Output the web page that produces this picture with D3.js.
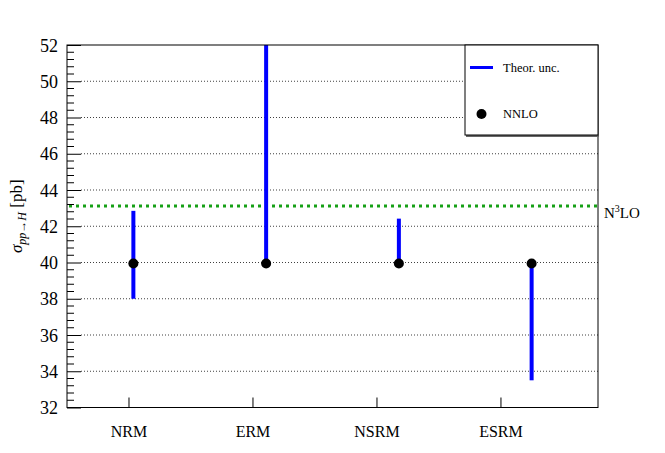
<!DOCTYPE html>
<html><head><meta charset="utf-8">
<script src="https://cdn.jsdelivr.net/npm/d3@7"></script>
<style>body{margin:0;background:#fff}svg{display:block}svg text{font-family:"Liberation Serif","DejaVu Serif",serif !important}</style>
</head><body>
<svg id="c" width="665" height="453"></svg>
<script>
const categories = ["NRM", "ERM", "NSRM", "ESRM"];
const nnlo = [39.94, 39.94, 39.94, 39.94];
const uncLow = [38.0, 39.94, 39.94, 33.5];
const uncHigh = [42.85, 52.0, 42.42, 39.94];
const n3lo = 43.12;
const yTicks = [32, 34, 36, 38, 40, 42, 44, 46, 48, 50, 52];
const yDomain = [32, 52];

const W = 665, H = 453;
const m = {l: 67, r: 67, t: 45, b: 45.5};
const svg = d3.select("#c");
const x = d3.scaleBand().domain(categories).range([m.l, W - m.r]);
const xt = d3.scaleBand().domain(categories).range([m.l, m.l + (W - m.l - m.r) * 0.934]);
const y = d3.scaleLinear().domain(yDomain).range([H - m.b, m.t]);

// grid
svg.append("g").selectAll("line").data(yTicks.slice(1, -1)).join("line")
  .attr("x1", m.l + 14).attr("x2", W - m.r)
  .attr("y1", d => y(d)).attr("y2", d => y(d))
  .attr("stroke", "#000").attr("stroke-width", 1).attr("stroke-dasharray", "1 2").attr("opacity", 0.75);

// N3LO line
svg.append("line").attr("x1", m.l + 2).attr("x2", W - m.r)
  .attr("y1", y(n3lo)).attr("y2", y(n3lo))
  .attr("stroke", "#16a016").attr("stroke-width", 3).attr("stroke-dasharray", "3 4");

// y axis
const yAxis = d3.axisLeft(y).tickValues(yTicks).tickSize(-14).tickPadding(10).tickFormat(d3.format("d"));
const ga = svg.append("g").attr("transform", `translate(${m.l},0)`).call(yAxis);
ga.select(".domain").remove();
ga.selectAll("text").attr("font-size", 18).attr("fill", "#000")
  .attr("x", -9).attr("dy", "0.34em");
const minors = d3.range(yDomain[0], yDomain[1] + 0.001, 0.4).filter(v => Math.abs(v / 2 - Math.round(v / 2)) > 0.01);
svg.append("g").selectAll("line").data(minors).join("line")
  .attr("x1", m.l).attr("x2", m.l + 7).attr("y1", d => y(d)).attr("y2", d => y(d))
  .attr("stroke", "#000");

// x axis
const xAxis = d3.axisBottom(xt).tickSize(-10).tickPadding(18);
const gx = svg.append("g").attr("transform", `translate(0,${H - m.b})`).call(xAxis);
gx.select(".domain").remove();
gx.selectAll("text").attr("font-size", 16).attr("fill", "#000");

// error bars
svg.append("g").selectAll("line").data(categories).join("line")
  .attr("x1", d => x(d) + x.bandwidth() / 2).attr("x2", d => x(d) + x.bandwidth() / 2)
  .attr("y1", (d, i) => y(uncLow[i])).attr("y2", (d, i) => y(uncHigh[i]))
  .attr("stroke", "#0000ff").attr("stroke-width", 4);

// points
svg.append("g").selectAll("circle").data(categories).join("circle")
  .attr("cx", d => x(d) + x.bandwidth() / 2).attr("cy", (d, i) => y(nnlo[i])).attr("r", 5).attr("fill", "#000");

// frame
svg.append("rect").attr("x", m.l).attr("y", m.t).attr("width", W - m.l - m.r).attr("height", H - m.t - m.b)
  .attr("fill", "none").attr("stroke", "#000").attr("stroke-width", 1);

// N3LO label
const nl = svg.append("text").attr("x", W - m.r + 6).attr("y", y(n3lo) + 12)
  .attr("font-size", 15).attr("fill", "#000");
nl.append("tspan").text("N");
nl.append("tspan").text("3").attr("font-size", 10).attr("dy", -6);
nl.append("tspan").text("LO").attr("dy", 6);

// legend
const lg = svg.append("g");
lg.append("line").attr("x1", 466).attr("x2", W - m.r + 1).attr("y1", 136).attr("y2", 136).attr("stroke", "#666").attr("stroke-width", 2);
lg.append("rect").attr("x", 465).attr("y", m.t).attr("width", W - m.r - 465).attr("height", 90)
  .attr("fill", "#fff").attr("stroke", "#000");
lg.append("line").attr("x1", 470).attr("x2", 493).attr("y1", 67.5).attr("y2", 67.5).attr("stroke", "#0000ff").attr("stroke-width", 3);
lg.append("text").attr("x", 503).attr("y", 72).text("Theor. unc.").attr("font-size", 12.5).attr("fill", "#000");
lg.append("circle").attr("cx", 481.5).attr("cy", 114).attr("r", 5).attr("fill", "#000");
lg.append("text").attr("x", 503).attr("y", 118).text("NNLO").attr("font-size", 12.5).attr("fill", "#000");

// y label
const yl = svg.append("text").attr("transform", `translate(22,${(m.t + H - m.b) / 2 - 10}) rotate(-90)`)
  .attr("text-anchor", "middle").attr("font-size", 17).attr("fill", "#000");
yl.append("tspan").text("σ").attr("font-style", "italic");
yl.append("tspan").text("pp→H").attr("font-style", "italic").attr("font-size", 12).attr("dy", 4);
yl.append("tspan").text(" [pb]").attr("dy", -4);
</script>
</body></html>
